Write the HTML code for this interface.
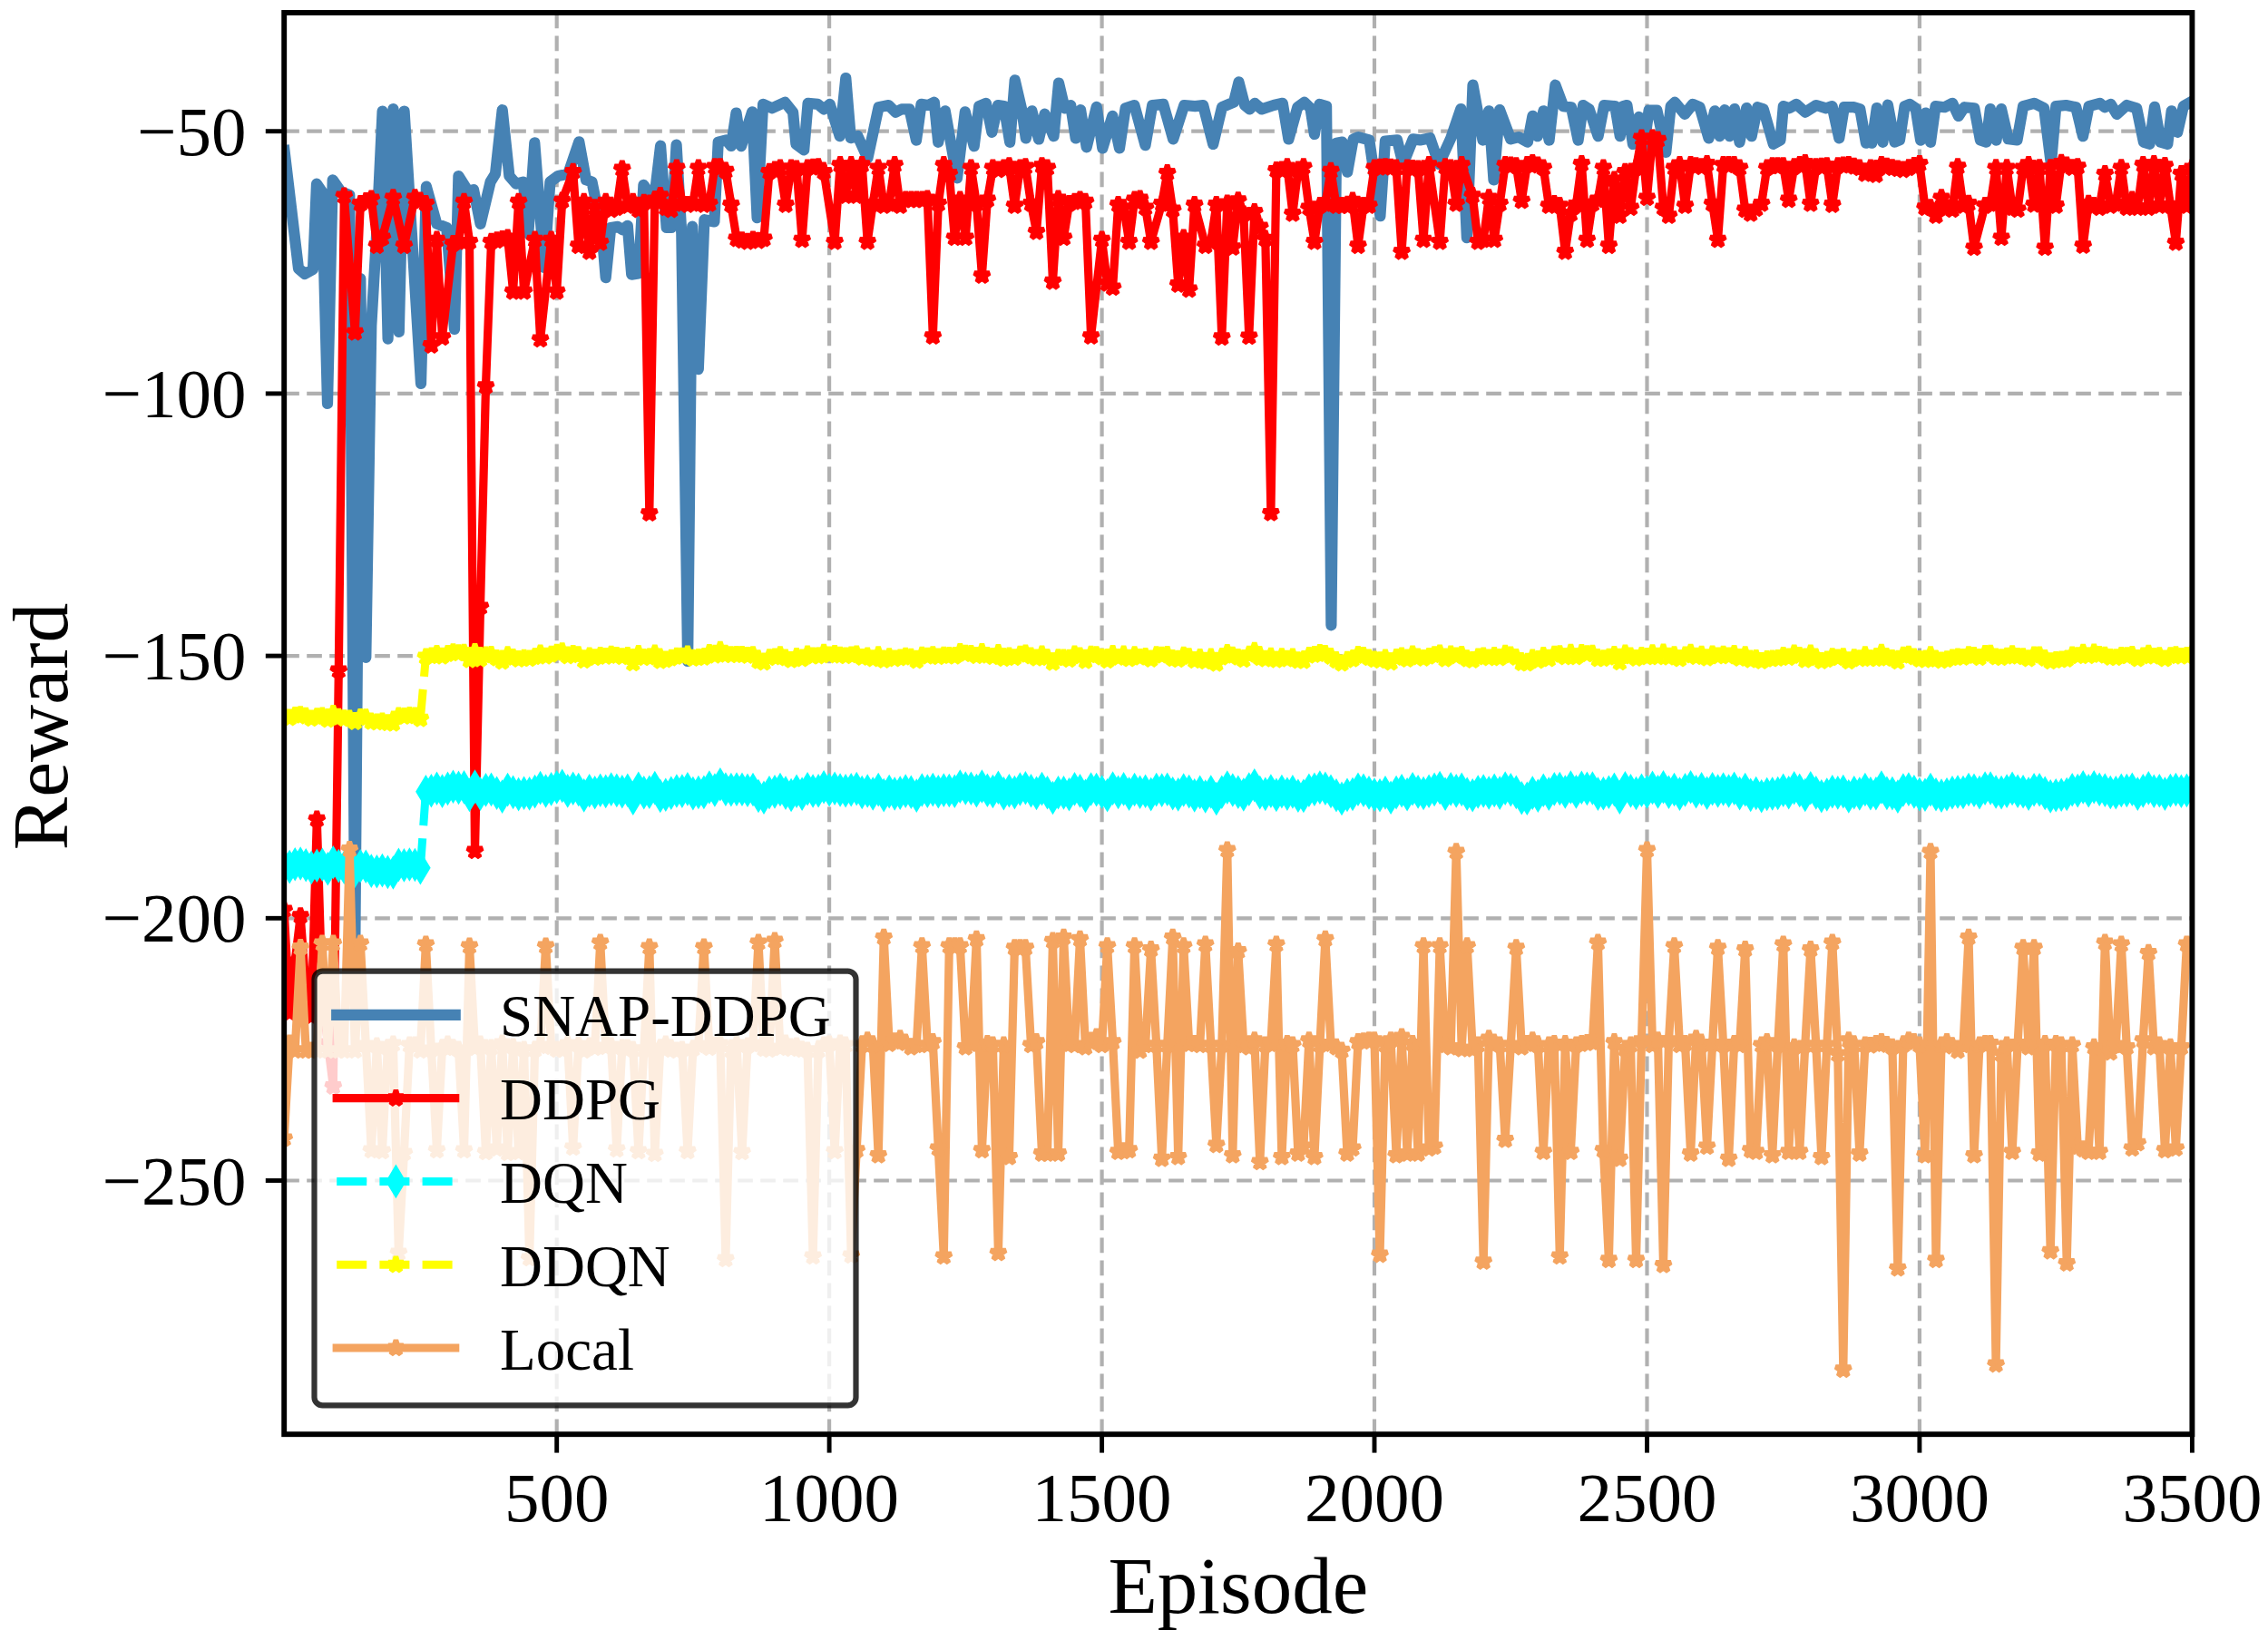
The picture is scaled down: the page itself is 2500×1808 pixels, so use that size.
<!DOCTYPE html>
<html lang="en">
<head>
<meta charset="utf-8">
<title>Reward vs Episode</title>
<style>
html,body{margin:0;padding:0;background:#fff;}
body{width:2500px;height:1808px;overflow:hidden;}
svg{display:block;}
text{font-family:"Liberation Serif",serif;fill:#000;}
.tick{font-size:77px;}
.lab{font-size:89px;}
.leg{font-size:65px;}
</style>
</head>
<body>
<svg width="2500" height="1808" viewBox="0 0 2500 1808">
<defs>
<clipPath id="ax"><rect x="313.2" y="14" width="2103.2" height="1567.2"/></clipPath>
<marker id="mr" markerUnits="userSpaceOnUse" markerWidth="60" markerHeight="60" refX="0" refY="0" viewBox="-30 -30 60 60" overflow="visible" orient="0"><polygon points="0.00,-8.75 1.96,-2.70 8.32,-2.70 3.18,1.03 5.14,7.08 0.00,3.34 -5.14,7.08 -3.18,1.03 -8.32,-2.70 -1.96,-2.70" fill="#ff0000" stroke="#ff0000" stroke-width="5.6" stroke-linejoin="bevel"/></marker>
<marker id="mo" markerUnits="userSpaceOnUse" markerWidth="60" markerHeight="60" refX="0" refY="0" viewBox="-30 -30 60 60" overflow="visible" orient="0"><polygon points="0.00,-8.75 1.96,-2.70 8.32,-2.70 3.18,1.03 5.14,7.08 0.00,3.34 -5.14,7.08 -3.18,1.03 -8.32,-2.70 -1.96,-2.70" fill="#f4a460" stroke="#f4a460" stroke-width="5.6" stroke-linejoin="bevel"/></marker>
<marker id="my" markerUnits="userSpaceOnUse" markerWidth="60" markerHeight="60" refX="0" refY="0" viewBox="-30 -30 60 60" overflow="visible" orient="0"><polygon points="0.00,-8.75 1.96,-2.70 8.32,-2.70 3.18,1.03 5.14,7.08 0.00,3.34 -5.14,7.08 -3.18,1.03 -8.32,-2.70 -1.96,-2.70" fill="#ffff00" stroke="#ffff00" stroke-width="5.6" stroke-linejoin="bevel"/></marker>
<marker id="mc" markerUnits="userSpaceOnUse" markerWidth="60" markerHeight="60" refX="0" refY="0" viewBox="-30 -30 60 60" overflow="visible" orient="0"><polygon points="0,-14.73 8.84,0 0,14.73 -8.84,0" fill="#00ffff" stroke="#00ffff" stroke-width="4.17" stroke-linejoin="miter"/></marker>
</defs>
<rect x="0" y="0" width="2500" height="1808" fill="#ffffff"/>
<g stroke="#b0b0b0" stroke-width="4.17" stroke-dasharray="16.67 8.33" fill="none">
<line x1="613.7" y1="1581.2" x2="613.7" y2="14"/>
<line x1="914.1" y1="1581.2" x2="914.1" y2="14"/>
<line x1="1214.6" y1="1581.2" x2="1214.6" y2="14"/>
<line x1="1515" y1="1581.2" x2="1515" y2="14"/>
<line x1="1815.5" y1="1581.2" x2="1815.5" y2="14"/>
<line x1="2115.9" y1="1581.2" x2="2115.9" y2="14"/>
<line x1="313.2" y1="144.7" x2="2416.4" y2="144.7"/>
<line x1="313.2" y1="433.9" x2="2416.4" y2="433.9"/>
<line x1="313.2" y1="723.1" x2="2416.4" y2="723.1"/>
<line x1="313.2" y1="1012.3" x2="2416.4" y2="1012.3"/>
<line x1="313.2" y1="1301.5" x2="2416.4" y2="1301.5"/>
</g>
<g clip-path="url(#ax)" fill="none" stroke-linejoin="round">
<polyline id="snap" points="313.5,166 329,296 336,302 345,297 349,202.7 355,211.5 361,445 366.7,198.3 375.9,211.5 385.3,215 391.3,1043 397.3,307 403.3,725 409.3,359 415.3,255 421.6,122.5 427.6,373.6 433.5,120 439.8,366 445.6,122.5 464,423 469.9,205.7 481.3,246.6 492.3,251 501,363 505.4,194 516.4,211.5 522,209 529.6,246.8 540.6,200.5 546,191.8 553.7,121.2 561.4,194 569,202.7 576.8,200.5 582.3,257.8 589.3,157.4 599.9,295 606.4,200.5 615.2,194 626.2,191.8 638.3,156.3 646,198.3 652.5,200.5 663.3,253.2 667.7,306.1 673.2,251 680.9,249.9 686.3,253.2 691.8,248.8 696.2,302.6 703.9,301.5 709.4,203.8 716,213.7 722.1,211.5 728.1,160.7 734.7,251 740.1,251 745.6,159.6 751.3,257.6 758.1,729 763.2,249.6 769.8,407.1 776.4,242.2 787.4,244.4 791.7,156.6 800.5,154.4 806,161 811.5,124.5 817,161.2 829.1,123.4 834.6,240.2 841.1,114.9 851,119.3 865.3,112.7 874.1,123.7 877.4,158.8 886.2,165.4 890.6,113.8 901.5,114.9 908.1,120.4 914.7,114.9 925.7,150.2 932.3,86.1 937.8,152.2 945.4,150 956.4,174.4 968.5,118.2 979.5,116 987.2,123.7 993.8,120.4 1002.5,120.4 1010,154.6 1015.5,114.9 1023.2,116 1029.8,112.7 1034.2,156.8 1041.8,122.3 1055,196.3 1063.8,123.4 1073.7,161.2 1079.2,117.1 1086.9,113.8 1093.4,145.8 1100,116 1106.6,117.1 1113.2,156.8 1118.7,88.3 1126.4,121.5 1130.8,152.4 1137.4,122.3 1145,153.5 1151.6,125.6 1161.5,150.2 1167,91.5 1173.6,119.3 1180.2,116 1185.7,152.4 1191.1,121.2 1197.7,162.3 1208.7,117.9 1215.3,163.4 1226.3,127.8 1234,163.4 1240.6,119.3 1250.4,116 1262.5,160.1 1270.2,116 1282.3,114.9 1293.2,153.5 1305.3,116 1317.4,117.1 1326.2,116 1337.2,159 1347,118.2 1360,112.7 1365.5,90.4 1372.1,116 1377.6,120.4 1383.1,113.8 1390.7,120.4 1403.9,116 1413.8,113.8 1420.4,153.5 1430.3,118.2 1437.9,112.7 1444.5,119.3 1448.9,148 1454.4,114.9 1462.1,117.1 1467.4,689.3 1473.1,157.7 1479.7,156.6 1485.2,189.7 1491.7,153.3 1497.2,151.1 1509.3,154.4 1521.4,238.1 1526.9,155.5 1540.1,154.4 1546.6,181 1557.6,153.3 1565.3,154.4 1576.3,152.2 1586.2,181 1599.3,152.2 1610.3,120.1 1616.9,262.2 1623.5,93.7 1634.5,154.6 1641.1,122.3 1646.5,198.5 1653.1,121.2 1665.2,153.3 1674,151.1 1683.9,156.6 1689.4,127.8 1694.8,150.2 1701.4,122.3 1707.6,154.6 1714.4,93.7 1723.2,117.1 1732,118.2 1739.6,154.6 1745.1,116 1751.7,120.4 1761.6,150.2 1768.2,116 1780.3,117.1 1785.8,150.2 1789,117.1 1793.4,116 1800,159 1806.6,128.9 1812.1,161.2 1817.6,121.5 1826.4,121.5 1836.3,167.8 1841.7,117.1 1846.1,112.7 1857.1,125.9 1865.9,114.9 1873.6,118.2 1883.5,152.4 1890.1,122.3 1895.5,150.2 1901,121.2 1906.5,150.2 1912,120.1 1917.5,156.8 1925.2,119 1930.7,150.2 1937.3,118.2 1943.8,120.4 1954.8,158.8 1962.5,154.4 1965.8,117.1 1972.4,119.3 1980.1,114.9 1990,123.7 2002,116 2013,119.3 2019.6,117.1 2027.3,152.4 2032.8,118.2 2043.8,118.2 2050.3,120.4 2056.9,157.7 2060,156.6 2063.3,157.7 2068.8,119 2075.4,156.8 2080.9,115.7 2088.5,156.6 2094,154.4 2099.5,117.1 2105,114.9 2111.6,119.3 2117.1,154.6 2122.6,124.5 2128,156.8 2133.5,117.1 2143.4,118.2 2152.2,113.8 2158.8,128 2165.4,118.2 2176.3,119.3 2182.9,154.4 2189.5,156.6 2193.9,120.1 2200.5,154.6 2206,120.1 2213.7,153.3 2223.5,154.4 2230.1,117.1 2242.2,113.8 2253.2,119.3 2260.9,180.9 2266.3,117.1 2277.3,116 2288.3,118.2 2296,150.2 2302.6,117.1 2314.6,113.8 2320.1,118.2 2326.7,114.9 2333.3,125.9 2344.3,116 2355.2,119.3 2362.9,156.6 2369.5,158.8 2375,117.9 2381.6,156.6 2389.3,158.8 2393.7,122.3 2400.2,145.8 2406.8,117.1 2416.4,111.6" stroke="#4682b4" stroke-width="12.2" stroke-linecap="square"/>
<polyline id="ddpg" points="313.2,1003 319.2,1116 325.2,1060 331.2,1009.8 337.2,1090 343.2,1120 349.3,903.2 355.3,1100 361.3,1150 367.3,1197.6 373.3,739 379.3,216 391.3,366.3 397.3,224.5 403.3,221.7 409.3,219 415.4,270.8 421.4,262 433.4,217.9 445.4,270.8 457.4,217.9 463.4,221.2 469.4,224.5 475.4,380.6 481.5,264.2 487.5,371.8 499.5,268.6 505.5,266.4 511.5,222.3 517.5,266.4 523.5,938 529.5,669 535.5,425.7 541.5,266.4 547.6,264.9 553.6,263.5 559.6,262 565.6,321.3 571.6,222.3 577.6,321.3 589.6,264.2 595.6,374 607.6,264.2 613.7,321.3 619.7,221.2 631.7,189.4 637.7,270.8 643.7,222.3 649.7,277.4 655.7,228.9 661.7,267.5 667.7,222.3 673.7,231.1 679.8,228.9 685.8,186.1 691.8,226.7 697.8,222.3 703.8,231.1 709.8,223.4 715.8,565.7 721.8,220.1 727.8,215.7 733.8,228.9 739.8,231.1 745.9,185 751.9,224.5 757.9,225.6 763.9,224.5 769.9,185 775.9,225.6 781.9,224.5 787.9,183.9 793.9,183.9 799.9,188.3 805.9,225.6 812,263.1 818,264.8 824,266.4 830,264.2 836,265.3 842,263.1 848,189.4 854,187.2 860,185 866,225.6 872.1,185 878.1,186.1 884.1,264.2 890.1,185 896.1,184.4 902.1,183.9 908.1,189.4 920.1,266.4 926.1,181.7 932.1,215.7 938.2,181.7 944.2,215.7 950.2,181.7 956.2,266.4 962.2,224.5 968.2,185 974.2,226.7 980.2,224.5 986.2,181.7 992.2,226.7 998.2,220.1 1004.3,220.1 1010.3,220.1 1016.3,220.1 1022.3,219 1028.3,370.7 1034.3,224.5 1040.3,181.7 1046.3,191.5 1052.3,262 1058.3,220.1 1064.3,262 1070.4,185 1076.4,224.5 1082.4,303.7 1088.4,220.1 1094.4,185 1100.4,187.2 1106.4,185 1112.4,182.8 1118.4,226.7 1124.4,185 1130.4,183.9 1136.5,224.5 1142.5,255.4 1148.5,182.8 1154.5,185 1160.5,310.3 1166.5,219 1172.5,262 1178.5,224.5 1184.5,222.3 1190.5,220.1 1196.5,222.3 1202.6,370.7 1214.6,264.2 1220.6,312.5 1226.6,316.9 1232.6,225.6 1238.6,228.9 1244.6,266.4 1250.6,220.1 1256.6,219 1262.6,228.9 1268.7,266.4 1280.7,224.5 1286.7,190.5 1292.7,231.1 1298.7,313.6 1304.7,262 1310.7,319.1 1316.7,225.6 1328.7,270.8 1334.8,266.4 1340.8,225.6 1346.8,371.8 1352.8,224 1358.8,272.7 1364.8,220.8 1370.8,236 1376.8,371 1382.8,233.5 1388.8,250 1394.8,263.2 1400.9,565.5 1406.9,187.5 1412.9,187.2 1418.9,183.9 1424.9,235.5 1430.9,187.2 1436.9,183.9 1442.9,228.9 1448.9,266.4 1454.9,226.7 1460.9,224.5 1467,188.3 1473,226.7 1479,226.7 1485,226.7 1491,221.2 1497,270.8 1503,226.7 1509,226.7 1515,185 1521,184.4 1527,183.9 1533.1,184.4 1539.1,185 1545.1,277.4 1551.1,185 1557.1,185.5 1563.1,186.1 1569.1,264.2 1575.1,181.7 1587.1,266.4 1593.1,183.9 1599.2,185 1605.2,224.5 1611.2,181.7 1623.2,215.7 1629.2,266.4 1635.2,264.2 1641.2,217.9 1647.2,264.2 1653.2,224.5 1659.2,181.7 1665.3,182.2 1671.3,182.8 1677.3,221.2 1683.3,181.7 1689.3,179.5 1695.3,182.2 1701.3,185 1707.3,226.7 1713.3,224.5 1719.3,226.7 1725.3,277.4 1731.4,235.5 1737.4,225.6 1743.4,180.6 1749.4,264.2 1755.4,224.5 1761.4,220.1 1767.4,185 1773.4,270.8 1779.4,198.1 1785.4,237.7 1791.4,189.4 1797.5,228.9 1803.5,185 1809.5,152 1815.5,217.9 1821.5,152 1827.5,154.2 1833.5,228.9 1839.5,237.7 1845.5,185 1851.5,181.7 1857.5,226.7 1863.6,181.7 1869.6,182.8 1875.6,183.9 1881.6,180.6 1887.6,224.5 1893.6,264.2 1899.6,181.7 1905.6,181.7 1911.6,181.7 1917.6,185 1923.7,231.1 1929.7,235.5 1935.7,230 1941.7,224.5 1947.7,185 1953.7,182.8 1959.7,182.8 1965.7,182.8 1971.7,220.1 1977.7,183.9 1983.7,181.7 1989.8,179.5 1995.8,224.5 2001.8,183.9 2007.8,183.3 2013.8,182.8 2019.8,225.6 2025.8,182.8 2031.8,182.2 2037.8,181.7 2043.8,183.3 2049.8,185 2055.9,191.5 2061.9,185 2067.9,192.6 2073.9,181.6 2079.9,183.3 2085.9,184.9 2091.9,186 2097.9,187.1 2103.9,184.9 2109.9,182.7 2115.9,180.5 2122,228.8 2128,228.8 2134,237.6 2140,217.9 2146,228.8 2152,231 2158,183.8 2164,226.6 2170,224.4 2176,272.9 2188.1,226.6 2194.1,224.4 2200.1,184.9 2206.1,262 2212.1,184.9 2218.1,228.8 2224.1,231 2230.1,184.9 2236.1,181.6 2242.1,225.5 2248.1,184.9 2254.2,272.9 2260.2,184.9 2266.2,226.6 2272.2,179.4 2278.2,182.2 2284.2,184.9 2290.2,183.8 2296.2,270.7 2302.2,224.4 2308.2,226.6 2314.2,228.8 2320.3,191.5 2326.3,226.6 2332.3,224.4 2338.3,184.9 2344.3,228.8 2350.3,220 2356.3,228.8 2362.3,181.6 2368.3,228.8 2374.3,180.5 2380.3,226.6 2386.4,182.7 2392.4,226.6 2398.4,267.4 2404.4,191.5 2410.4,226.6 2416.4,184.9" stroke="#ff0000" stroke-width="9.2" stroke-linecap="square" marker-start="url(#mr)" marker-mid="url(#mr)" marker-end="url(#mr)"/>
<polyline id="dqn" points="313.2,953.8 319.2,955.6 325.2,952.7 331.2,952 337.2,953.7 343.2,956.4 349.3,954.2 355.3,953.2 361.3,957.7 367.3,950.7 373.3,954.6 379.3,956.2 385.3,956.5 391.3,960.3 397.3,954.8 403.3,955.2 409.3,960.1 415.4,960.7 421.4,959.6 427.4,961.4 433.4,962 439.4,953.4 445.4,953.9 451.4,953 457.4,953.5 463.4,956.7 469.4,872.8 475.4,871.7 481.5,869.2 487.5,872.1 493.5,869.4 499.5,867.3 505.5,868.4 511.5,867.9 517.5,876.4 523.5,867.1 529.5,875.2 535.5,870.9 541.5,870.4 547.6,874.3 553.6,878.1 559.6,870.6 565.6,873.4 571.6,875.6 577.6,874.2 583.6,874.9 589.6,872.6 595.6,868.6 601.6,872 607.6,869.9 613.7,867.9 619.7,866.4 625.7,871.9 631.7,869.2 637.7,870.5 643.7,876.9 649.7,871.8 655.7,873.8 661.7,871.3 667.7,872.4 673.7,870.1 679.8,871.4 685.8,872.7 691.8,871.2 697.8,880.2 703.8,869.2 709.8,873.8 715.8,873.2 721.8,868.6 727.8,877.4 733.8,876.2 739.8,874.2 745.9,872 751.9,872.1 757.9,869.9 763.9,874.6 769.9,873.5 775.9,873.4 781.9,868 787.9,871 793.9,864.7 799.9,870.1 805.9,870.6 812,870.1 818,870.2 824,871.3 830,870.5 836,877.5 842,879.3 848,873.8 854,872.9 860,870.5 866,874.1 872.1,876.5 878.1,872.3 884.1,875.2 890.1,869.7 896.1,872 902.1,871.8 908.1,867.8 914.1,870.8 920.1,869.2 926.1,871 932.1,871.8 938.2,870.7 944.2,869.6 950.2,873.5 956.2,872 962.2,875 968.2,870.6 974.2,876.6 980.2,872.6 986.2,875 992.2,874.1 998.2,872.1 1004.3,873.2 1010.3,877.1 1016.3,871 1022.3,872.1 1028.3,870.6 1034.3,872.8 1040.3,871.1 1046.3,871.5 1052.3,872.3 1058.3,867.1 1064.3,869 1070.4,869.2 1076.4,871.6 1082.4,867 1088.4,871.2 1094.4,872.5 1100.4,868.2 1106.4,874.7 1112.4,871.7 1118.4,873.6 1124.4,870 1130.4,868.8 1136.5,871.8 1142.5,874.4 1148.5,869.6 1154.5,873.8 1160.5,879.5 1166.5,873.7 1172.5,873.9 1178.5,875.8 1184.5,869.9 1190.5,871.9 1196.5,877.4 1202.6,870 1208.6,870.6 1214.6,873.1 1220.6,876.8 1226.6,869.1 1232.6,873.4 1238.6,869.9 1244.6,875.1 1250.6,870.5 1256.6,873.3 1262.6,872.3 1268.7,875.6 1274.7,870.6 1280.7,871.1 1286.7,870.3 1292.7,874.7 1298.7,875.9 1304.7,871 1310.7,872.6 1316.7,876.9 1322.7,873.4 1328.7,878 1334.8,873 1340.8,880.5 1346.8,873.3 1352.8,868.1 1358.8,871 1364.8,873.3 1370.8,876 1376.8,870.1 1382.8,865.8 1388.8,873.6 1394.8,875.4 1400.9,872.1 1406.9,876.4 1412.9,872.6 1418.9,875.2 1424.9,872.9 1430.9,877.2 1436.9,877.4 1442.9,871.2 1448.9,870.2 1454.9,868.1 1460.9,869.3 1467,872.4 1473,876.8 1479,880.4 1485,876.4 1491,875.5 1497,870.3 1503,871.3 1509,873.9 1515,876 1521,876.8 1527,873.9 1533.1,879.2 1539.1,873.6 1545.1,871.8 1551.1,875.7 1557.1,869.7 1563.1,872.9 1569.1,874.5 1575.1,872.3 1581.1,870.4 1587.1,868.5 1593.1,875.3 1599.2,869.9 1605.2,871.9 1611.2,870.4 1617.2,875.2 1623.2,876.7 1629.2,873 1635.2,872 1641.2,874 1647.2,871.4 1653.2,874.1 1659.2,869.1 1665.3,870.8 1671.3,873.4 1677.3,879.8 1683.3,880.3 1689.3,874.1 1695.3,877.3 1701.3,871.2 1707.3,875.1 1713.3,869.9 1719.3,869.5 1725.3,873 1731.4,868 1737.4,872.9 1743.4,868.2 1749.4,869.4 1755.4,869 1761.4,875.1 1767.4,874.8 1773.4,873.2 1779.4,870.4 1785.4,879.1 1791.4,868.8 1797.5,871.9 1803.5,874.5 1809.5,871.3 1815.5,873 1821.5,868.4 1827.5,872.9 1833.5,867.7 1839.5,873.2 1845.5,870.5 1851.5,875.1 1857.5,870.9 1863.6,867.8 1869.6,872.7 1875.6,869.9 1881.6,874.2 1887.6,869.7 1893.6,872 1899.6,870 1905.6,872 1911.6,869.3 1917.6,874.6 1923.7,870.6 1929.7,876.4 1935.7,874.5 1941.7,877.7 1947.7,875.5 1953.7,875 1959.7,874.5 1965.7,871.3 1971.7,873.7 1977.7,868.7 1983.7,871.4 1989.8,876.5 1995.8,868.7 2001.8,873.9 2007.8,877.7 2013.8,876 2019.8,872.7 2025.8,873.9 2031.8,872.6 2037.8,877.9 2043.8,873.8 2049.8,875 2055.9,870.5 2061.9,874.7 2067.9,874.8 2073.9,868 2079.9,874.4 2085.9,874.6 2091.9,878.1 2097.9,871 2103.9,870.1 2109.9,872.9 2115.9,875.6 2122,876.3 2128,870.6 2134,875.7 2140,877.1 2146,875.8 2152,873.8 2158,873 2164,873.5 2170,870.5 2176,871.3 2182,873.6 2188.1,869.1 2194.1,869 2200.1,873 2206.1,873.6 2212.1,872.1 2218.1,869.4 2224.1,872.3 2230.1,872.7 2236.1,875.1 2242.1,870.8 2248.1,870.7 2254.2,874.4 2260.2,877.9 2266.2,876.7 2272.2,876.2 2278.2,875.5 2284.2,870.8 2290.2,871.6 2296.2,867.9 2302.2,871.7 2308.2,867.7 2314.2,870.2 2320.3,871.1 2326.3,873.5 2332.3,873.7 2338.3,871.4 2344.3,871.5 2350.3,870.3 2356.3,875.1 2362.3,871.9 2368.3,868.9 2374.3,872.2 2380.3,871.7 2386.4,875.1 2392.4,871.6 2398.4,870.5 2404.4,872.2 2410.4,871.4 2416.4,869.5" stroke="#00ffff" stroke-width="9" stroke-dasharray="33 14.2" stroke-dashoffset="19.9" marker-start="url(#mc)" marker-mid="url(#mc)" marker-end="url(#mc)"/>
<polyline id="ddqn" points="313.2,789.5 319.2,791.2 325.2,788.5 331.2,787.8 337.2,789.4 343.2,792 349.3,789.9 355.3,789 361.3,793.2 367.3,786.6 373.3,790.3 379.3,791.9 385.3,792.1 391.3,795.7 397.3,790.5 403.3,790.9 409.3,795.5 415.4,796.1 421.4,795 427.4,796.8 433.4,797.4 439.4,789.1 445.4,789.7 451.4,788.7 457.4,789.2 463.4,792.3 469.4,724 475.4,723 481.5,720.6 487.5,723.3 493.5,720.7 499.5,718.8 505.5,719.8 511.5,719.3 517.5,727.4 523.5,718.6 529.5,726.3 535.5,722.2 541.5,721.7 547.6,725.5 553.6,729.1 559.6,721.9 565.6,724.6 571.6,726.6 577.6,725.3 583.6,726 589.6,723.8 595.6,720 601.6,723.3 607.6,721.3 613.7,719.4 619.7,717.9 625.7,723.1 631.7,720.6 637.7,721.8 643.7,727.9 649.7,723 655.7,724.9 661.7,722.6 667.7,723.6 673.7,721.4 679.8,722.7 685.8,723.9 691.8,722.5 697.8,731 703.8,720.6 709.8,724.9 715.8,724.4 721.8,720 727.8,728.3 733.8,727.2 739.8,725.3 745.9,723.3 751.9,723.3 757.9,721.2 763.9,725.7 769.9,724.7 775.9,724.6 781.9,719.5 787.9,722.3 793.9,716.3 799.9,721.4 805.9,721.9 812,721.5 818,721.6 824,722.6 830,721.8 836,728.5 842,730.2 848,724.9 854,724.1 860,721.9 866,725.2 872.1,727.5 878.1,723.5 884.1,726.2 890.1,721.1 896.1,723.2 902.1,723.1 908.1,719.3 914.1,722.1 920.1,720.5 926.1,722.3 932.1,723 938.2,722 944.2,721 950.2,724.6 956.2,723.2 962.2,726.1 968.2,721.9 974.2,727.6 980.2,723.8 986.2,726.1 992.2,725.2 998.2,723.3 1004.3,724.4 1010.3,728.1 1016.3,722.3 1022.3,723.4 1028.3,721.9 1034.3,724 1040.3,722.4 1046.3,722.7 1052.3,723.5 1058.3,718.6 1064.3,720.4 1070.4,720.6 1076.4,722.9 1082.4,718.5 1088.4,722.5 1094.4,723.8 1100.4,719.6 1106.4,725.8 1112.4,723 1118.4,724.8 1124.4,721.4 1130.4,720.2 1136.5,723.1 1142.5,725.5 1148.5,721 1154.5,724.9 1160.5,730.3 1166.5,724.8 1172.5,725 1178.5,726.8 1184.5,721.2 1190.5,723.1 1196.5,728.3 1202.6,721.3 1208.6,721.9 1214.6,724.3 1220.6,727.8 1226.6,720.5 1232.6,724.6 1238.6,721.2 1244.6,726.2 1250.6,721.8 1256.6,724.5 1262.6,723.5 1268.7,726.6 1274.7,721.9 1280.7,722.4 1286.7,721.6 1292.7,725.8 1298.7,727 1304.7,722.3 1310.7,723.8 1316.7,727.9 1322.7,724.5 1328.7,729 1334.8,724.2 1340.8,731.3 1346.8,724.4 1352.8,719.5 1358.8,722.3 1364.8,724.5 1370.8,727 1376.8,721.4 1382.8,717.4 1388.8,724.8 1394.8,726.4 1400.9,723.3 1406.9,727.4 1412.9,723.8 1418.9,726.3 1424.9,724.1 1430.9,728.1 1436.9,728.4 1442.9,722.5 1448.9,721.6 1454.9,719.5 1460.9,720.7 1467,723.6 1473,727.8 1479,731.2 1485,727.4 1491,726.5 1497,721.6 1503,722.6 1509,725 1515,727 1521,727.8 1527,725 1533.1,730.1 1539.1,724.7 1545.1,723 1551.1,726.7 1557.1,721.1 1563.1,724.1 1569.1,725.6 1575.1,723.5 1581.1,721.8 1587.1,720 1593.1,726.4 1599.2,721.2 1605.2,723.2 1611.2,721.7 1617.2,726.3 1623.2,727.7 1629.2,724.2 1635.2,723.2 1641.2,725.1 1647.2,722.6 1653.2,725.2 1659.2,720.4 1665.3,722.1 1671.3,724.6 1677.3,730.7 1683.3,731.2 1689.3,725.2 1695.3,728.2 1701.3,722.5 1707.3,726.2 1713.3,721.3 1719.3,720.8 1725.3,724.2 1731.4,719.4 1737.4,724.1 1743.4,719.6 1749.4,720.8 1755.4,720.4 1761.4,726.2 1767.4,725.9 1773.4,724.4 1779.4,721.7 1785.4,730 1791.4,720.2 1797.5,723.2 1803.5,725.6 1809.5,722.6 1815.5,724.2 1821.5,719.8 1827.5,724.1 1833.5,719.2 1839.5,724.4 1845.5,721.8 1851.5,726.2 1857.5,722.2 1863.6,719.3 1869.6,723.9 1875.6,721.3 1881.6,725.3 1887.6,721.1 1893.6,723.2 1899.6,721.4 1905.6,723.2 1911.6,720.6 1917.6,725.7 1923.7,721.9 1929.7,727.4 1935.7,725.6 1941.7,728.7 1947.7,726.5 1953.7,726.1 1959.7,725.6 1965.7,722.5 1971.7,724.9 1977.7,720.1 1983.7,722.7 1989.8,727.5 1995.8,720.1 2001.8,725.1 2007.8,728.6 2013.8,727 2019.8,723.9 2025.8,725 2031.8,723.8 2037.8,728.8 2043.8,724.9 2049.8,726.1 2055.9,721.9 2061.9,725.8 2067.9,725.9 2073.9,719.4 2079.9,725.5 2085.9,725.7 2091.9,729 2097.9,722.3 2103.9,721.4 2109.9,724.1 2115.9,726.7 2122,727.3 2128,721.9 2134,726.7 2140,728.1 2146,726.9 2152,725 2158,724.2 2164,724.7 2170,721.8 2176,722.6 2182,724.8 2188.1,720.5 2194.1,720.4 2200.1,724.2 2206.1,724.8 2212.1,723.3 2218.1,720.8 2224.1,723.5 2230.1,723.9 2236.1,726.2 2242.1,722.1 2248.1,722 2254.2,725.6 2260.2,728.9 2266.2,727.7 2272.2,727.2 2278.2,726.6 2284.2,722.1 2290.2,722.9 2296.2,719.4 2302.2,723 2308.2,719.2 2314.2,721.6 2320.3,722.4 2326.3,724.6 2332.3,724.9 2338.3,722.7 2344.3,722.8 2350.3,721.6 2356.3,726.2 2362.3,723.1 2368.3,720.3 2374.3,723.5 2380.3,722.9 2386.4,726.2 2392.4,722.9 2398.4,721.8 2404.4,723.5 2410.4,722.6 2416.4,720.8" stroke="#ffff00" stroke-width="9" stroke-dasharray="33 14.2" stroke-dashoffset="21.6" marker-start="url(#my)" marker-mid="url(#my)" marker-end="url(#my)"/>
<polyline id="local" points="313.2,1255 319.2,1150 325.2,1158 331.2,1044.6 337.2,1158 343.2,1158 349.3,1158 355.3,1040 361.3,1158 367.3,1040 373.3,1158 379.3,1158 385.3,936.5 391.3,1158 397.3,1040 403.3,1152 409.3,1268 415.4,1153 421.4,1269 427.4,1155 433.4,1151 439.4,1381 445.4,1271 451.4,1152 457.4,1152 463.4,1158 469.4,1041 475.4,1157 481.5,1268 487.5,1155 493.5,1151 499.5,1155 505.5,1157 511.5,1268 517.5,1043 523.5,1155 529.5,1151 535.5,1270 541.5,1155 547.6,1266 553.6,1150 559.6,1271 565.6,1154 571.6,1270 577.6,1157 583.6,1387 589.6,1157 595.6,1153 601.6,1043 607.6,1154 613.7,1157 619.7,1157 625.7,1151 631.7,1265 637.7,1152 643.7,1158 649.7,1153 655.7,1155 661.7,1039 667.7,1154 673.7,1153 679.8,1267 685.8,1155 691.8,1155 697.8,1157 703.8,1269 709.8,1157 715.8,1044 721.8,1272 727.8,1155 733.8,1151 739.8,1157 745.9,1158 751.9,1157 757.9,1269 763.9,1156 769.9,1152 775.9,1044 781.9,1155 787.9,1152 793.9,1151 799.9,1388 805.9,1158 812,1151 818,1270 824,1153 830,1151 836,1039 842,1156 848,1157 854,1037 860,1155 866,1150 872.1,1156 878.1,1153 884.1,1157 890.1,1158 896.1,1385 902.1,1158 908.1,1152 914.1,1151 920.1,1269 926.1,1150 932.1,1152 938.2,1384 944.2,1267.8 950.2,1152 956.2,1146.8 962.2,1152 968.2,1273.5 974.2,1033.4 980.2,1150.6 986.2,1147.8 992.2,1144.9 998.2,1149.7 1004.3,1154.4 1010.3,1152 1016.3,1042.9 1022.3,1152 1028.3,1148.7 1034.3,1265.9 1040.3,1385 1046.3,1042.9 1052.3,1042.9 1058.3,1042.9 1064.3,1154.4 1070.4,1150.6 1076.4,1035.3 1082.4,1267.8 1088.4,1150.6 1094.4,1152 1100.4,1381.2 1106.4,1152 1112.4,1275.4 1118.4,1044.8 1124.4,1044.8 1130.4,1044.8 1136.5,1152 1142.5,1148.7 1148.5,1271.6 1154.5,1271.6 1160.5,1037.2 1166.5,1271.6 1172.5,1033.4 1178.5,1150.6 1184.5,1152 1190.5,1035.3 1196.5,1154.4 1202.6,1148.7 1208.6,1143 1214.6,1152 1220.6,1042.9 1226.6,1148.7 1232.6,1269.7 1238.6,1268.8 1244.6,1267.8 1250.6,1042.9 1256.6,1158.2 1262.6,1152 1268.7,1046.6 1274.7,1152 1280.7,1277.3 1286.7,1152 1292.7,1033.4 1298.7,1275.4 1304.7,1042.9 1310.7,1150.6 1316.7,1150.6 1322.7,1152 1328.7,1041 1334.8,1152 1340.8,1262.1 1346.8,1152 1352.8,937 1358.8,1273.5 1364.8,1048.5 1370.8,1152 1376.8,1154.4 1382.8,1146.8 1388.8,1281 1394.8,1152 1400.9,1150.6 1406.9,1041 1412.9,1275.4 1418.9,1150.6 1424.9,1152 1430.9,1271.6 1436.9,1264 1442.9,1146.8 1448.9,1275.4 1454.9,1152 1460.9,1035.3 1467,1150.6 1473,1154.4 1479,1158.2 1485,1271.6 1491,1265.9 1497,1148.7 1503,1147.8 1509,1146.8 1515,1146.8 1521,1383.1 1527,1152 1533.1,1146.8 1539.1,1273.5 1545.1,1143 1551.1,1271.6 1557.1,1150.6 1563.1,1271.6 1569.1,1042.9 1575.1,1265.9 1581.1,1264 1587.1,1042.9 1593.1,1152 1599.2,1154.4 1605.2,938.9 1611.2,1156.3 1617.2,1042.9 1623.2,1156.3 1629.2,1152 1635.2,1390.7 1641.2,1144.9 1647.2,1150.6 1653.2,1152 1659.2,1256.5 1665.3,1152 1671.3,1044.8 1677.3,1154.4 1683.3,1150.6 1689.3,1146.8 1695.3,1152.5 1701.3,1269.7 1707.3,1152 1713.3,1150.6 1719.3,1385 1725.3,1150.6 1731.4,1269.7 1737.4,1152 1743.4,1150.6 1749.4,1149.7 1755.4,1148.7 1761.4,1039.1 1767.4,1267.8 1773.4,1388.8 1779.4,1148.7 1785.4,1277.3 1791.4,1156.3 1797.5,1152 1803.5,1388.8 1809.5,1146.8 1815.5,937 1821.5,1152 1827.5,1146.8 1833.5,1394.5 1839.5,1146.8 1845.5,1042.9 1851.5,1152 1857.5,1150.6 1863.6,1271.6 1869.6,1144.9 1875.6,1152 1881.6,1264 1887.6,1150.6 1893.6,1044.8 1899.6,1152 1905.6,1277.3 1911.6,1150.6 1917.6,1152 1923.7,1046.6 1929.7,1267.8 1935.7,1269.7 1941.7,1152 1947.7,1148.7 1953.7,1273.5 1959.7,1152 1965.7,1041 1971.7,1269.7 1977.7,1154.4 1983.7,1269.7 1989.8,1152 1995.8,1046.6 2001.8,1152 2007.8,1275.4 2013.8,1152 2019.8,1039.1 2025.8,1162 2031.8,1509.8 2037.8,1146.8 2043.8,1152 2049.8,1271.6 2055.9,1152 2061.9,1152.5 2067.9,1150.6 2073.9,1148.7 2079.9,1151.6 2085.9,1154.4 2091.9,1398.2 2097.9,1152 2103.9,1146.8 2109.9,1148.7 2115.9,1152 2122,1273.5 2128,938.9 2134,1388.8 2140,1152 2146,1148.7 2152,1153.4 2158,1158.2 2164,1152 2170,1033.4 2176,1273.5 2182,1152 2188.1,1150.6 2194.1,1150.6 2200.1,1504.1 2206.1,1162 2212.1,1152 2218.1,1269.7 2224.1,1150.6 2230.1,1044.8 2236.1,1154.4 2242.1,1044.8 2248.1,1271.6 2254.2,1150.6 2260.2,1379.3 2266.2,1150.6 2272.2,1152 2278.2,1392.6 2284.2,1152 2290.2,1264 2296.2,1266.9 2302.2,1269.7 2308.2,1154.4 2314.2,1269.7 2320.3,1039.1 2326.3,1160.1 2332.3,1152 2338.3,1041 2344.3,1154.4 2350.3,1265.9 2356.3,1260.2 2362.3,1146.8 2368.3,1050.4 2374.3,1154.4 2380.3,1152 2386.4,1267.8 2392.4,1154.4 2398.4,1265.9 2404.4,1154.4 2410.4,1041 2416.4,1041" stroke="#f4a460" stroke-width="9.2" stroke-linecap="square" marker-start="url(#mo)" marker-mid="url(#mo)" marker-end="url(#mo)"/>
</g>
<g stroke="#000" stroke-width="4.9" fill="none">
<line x1="613.7" y1="1581.2" x2="613.7" y2="1601.6"/>
<line x1="914.1" y1="1581.2" x2="914.1" y2="1601.6"/>
<line x1="1214.6" y1="1581.2" x2="1214.6" y2="1601.6"/>
<line x1="1515" y1="1581.2" x2="1515" y2="1601.6"/>
<line x1="1815.5" y1="1581.2" x2="1815.5" y2="1601.6"/>
<line x1="2115.9" y1="1581.2" x2="2115.9" y2="1601.6"/>
<line x1="2416.4" y1="1581.2" x2="2416.4" y2="1601.6"/>
<line x1="313.2" y1="144.7" x2="292.8" y2="144.7"/>
<line x1="313.2" y1="433.9" x2="292.8" y2="433.9"/>
<line x1="313.2" y1="723.1" x2="292.8" y2="723.1"/>
<line x1="313.2" y1="1012.3" x2="292.8" y2="1012.3"/>
<line x1="313.2" y1="1301.5" x2="292.8" y2="1301.5"/>
</g>
<rect x="313.2" y="14" width="2103.2" height="1567.2" fill="none" stroke="#000" stroke-width="5.9"/>
<text class="tick" x="613.7" y="1676.8" text-anchor="middle">500</text>
<text class="tick" x="914.1" y="1676.8" text-anchor="middle">1000</text>
<text class="tick" x="1214.6" y="1676.8" text-anchor="middle">1500</text>
<text class="tick" x="1515" y="1676.8" text-anchor="middle">2000</text>
<text class="tick" x="1815.5" y="1676.8" text-anchor="middle">2500</text>
<text class="tick" x="2115.9" y="1676.8" text-anchor="middle">3000</text>
<text class="tick" x="2416.4" y="1676.8" text-anchor="middle">3500</text>
<text class="tick" x="271.5" y="170.7" text-anchor="end">−50</text>
<text class="tick" x="271.5" y="459.9" text-anchor="end">−100</text>
<text class="tick" x="271.5" y="749.1" text-anchor="end">−150</text>
<text class="tick" x="271.5" y="1038.3" text-anchor="end">−200</text>
<text class="tick" x="271.5" y="1327.5" text-anchor="end">−250</text>
<text class="lab" x="1364.8" y="1778.3" text-anchor="middle">Episode</text>
<text class="lab" style="font-size:87.6px" transform="translate(73.5 801) rotate(-90)" text-anchor="middle">Reward</text>
<rect x="346.5" y="1070.6" width="597" height="478.8" rx="9" ry="9" fill="#ffffff" fill-opacity="0.8" stroke="#000000" stroke-opacity="0.8" stroke-width="6.2"/>
<line x1="371.2" y1="1118.8" x2="501.7" y2="1118.8" stroke="#4682b4" stroke-width="12.2" stroke-linecap="square"/>
<line x1="371.2" y1="1210.7" x2="501.7" y2="1210.7" stroke="#ff0000" stroke-width="9.2" stroke-linecap="square"/>
<g transform="translate(436.4 1210.7)"><polygon points="0.00,-8.75 1.96,-2.70 8.32,-2.70 3.18,1.03 5.14,7.08 0.00,3.34 -5.14,7.08 -3.18,1.03 -8.32,-2.70 -1.96,-2.70" fill="#ff0000" stroke="#ff0000" stroke-width="5.6" stroke-linejoin="bevel"/></g>
<line x1="371.2" y1="1302.4" x2="501.7" y2="1302.4" stroke="#00ffff" stroke-width="9" stroke-dasharray="33 14.2"/>
<g transform="translate(436.4 1302.4)"><polygon points="0,-14.73 8.84,0 0,14.73 -8.84,0" fill="#00ffff" stroke="#00ffff" stroke-width="4.17" stroke-linejoin="miter"/></g>
<line x1="371.2" y1="1394.2" x2="501.7" y2="1394.2" stroke="#ffff00" stroke-width="9" stroke-dasharray="33 14.2"/>
<g transform="translate(436.4 1394.2)"><polygon points="0.00,-8.75 1.96,-2.70 8.32,-2.70 3.18,1.03 5.14,7.08 0.00,3.34 -5.14,7.08 -3.18,1.03 -8.32,-2.70 -1.96,-2.70" fill="#ffff00" stroke="#ffff00" stroke-width="5.6" stroke-linejoin="bevel"/></g>
<line x1="371.2" y1="1486" x2="501.7" y2="1486" stroke="#f4a460" stroke-width="9.2" stroke-linecap="square"/>
<g transform="translate(436.4 1486)"><polygon points="0.00,-8.75 1.96,-2.70 8.32,-2.70 3.18,1.03 5.14,7.08 0.00,3.34 -5.14,7.08 -3.18,1.03 -8.32,-2.70 -1.96,-2.70" fill="#f4a460" stroke="#f4a460" stroke-width="5.6" stroke-linejoin="bevel"/></g>
<text class="leg" x="551" y="1142">SNAP-DDPG</text>
<text class="leg" x="551" y="1233.9">DDPG</text>
<text class="leg" x="551" y="1325.8">DQN</text>
<text class="leg" x="551" y="1417.8">DDQN</text>
<text class="leg" x="551" y="1509.7">Local</text>
</svg>
</body>
</html>
